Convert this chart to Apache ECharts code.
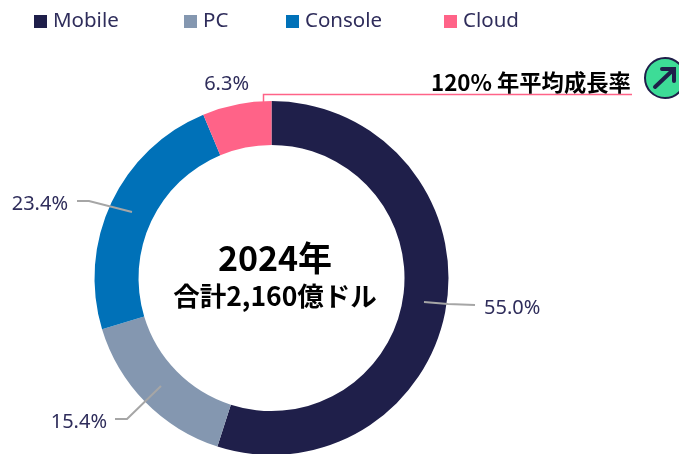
<!DOCTYPE html>
<html>
<head>
<meta charset="utf-8">
<style>
	html, body { margin: 0; padding: 0; background: #fff; }
	#main { width: 679px; height: 454px; }
</style>
<script src="https://cdn.jsdelivr.net/npm/echarts@6/dist/echarts.min.js"></script>
</head>
<body>
<div id="main"></div>
<script>
	const categories = ['Mobile', 'PC', 'Console', 'Cloud'];
	const shares = [55.0, 15.4, 23.4, 6.3];
	const colors = ['#1F1F4A', '#8497B0', '#0071B8', '#FF6388'];
	const centerTitle = '2024年';
	const centerSub = '合計2,160億ドル';
	const cagrText = '120% 年平均成長率';

	const textColor = '#2F2D5B';
	const latin = '"Noto Sans", sans-serif';
	const cjk = '"Noto Sans CJK JP", sans-serif';
	const legendLeft = [29, 179, 281, 439];

	// 标签位置和引线，和 categories 顺序一致
	const labelSpots = [
		{ x: 484, y: 308, align: 'left', line: [[424, 302], [448, 304], [475, 305]] },
		{ x: 107, y: 422, align: 'right', line: [[161, 386], [127, 419], [115, 419]] },
		{ x: 68, y: 204, align: 'right', line: [[132, 212], [89, 201], [77, 201]] },
		{ x: 249, y: 84, align: 'right', line: null }
	];

	let myChart = echarts.init(document.getElementById('main'));

	let option = {
		animation: false,
		backgroundColor: '#fff',
		// 图例间距不均匀，所以每项单独一个 legend
		legend: categories.map((name, i) => ({
			left: legendLeft[i],
			top: 6,
			icon: 'rect',
			itemWidth: 13,
			itemHeight: 13,
			itemGap: 0,
			selectedMode: false,
			textStyle: { color: textColor, fontSize: 20.5, fontFamily: latin, padding: [0, 0, 0, 1] },
			data: [name]
		})),
		series: [
			{
				type: 'pie',
				silent: true,
				center: [271.5, 278],
				radius: [133, 177],
				startAngle: 90,
				clockwise: true,
				label: { show: false },
				labelLine: { show: false },
				data: categories.map((name, i) => ({
					name: name,
					value: shares[i],
					itemStyle: { color: colors[i] }
				}))
			},
			{
				// 透明的一层，只用来画从环中间引出的标签线
				type: 'pie',
				silent: true,
				z: 5,
				center: [271.5, 278],
				radius: [100, 153],
				startAngle: 90,
				clockwise: true,
				label: {
					show: true,
					color: textColor,
					fontSize: 20,
					fontFamily: latin,
					formatter: p => p.value.toFixed(1) + '%'
				},
				labelLine: {
					show: true,
					length: 40,
					length2: 15,
					lineStyle: { color: '#A6A6A6', width: 2 }
				},
				labelLayout: params => {
					let spot = labelSpots[params.dataIndex];
					let layout = { x: spot.x, y: spot.y, align: spot.align, verticalAlign: 'middle' };
					if (spot.line) {
						layout.labelLinePoints = spot.line;
					}
					return layout;
				},
				data: categories.map((name, i) => ({
					name: name,
					value: shares[i],
					itemStyle: { color: 'transparent' },
					labelLine: { show: labelSpots[i].line !== null }
				}))
			}
		],
		graphic: [
			{ type: 'text', z: 10, style: { text: centerTitle, x: 275, y: 258, align: 'center', verticalAlign: 'middle', fill: '#000', font: 'bold 34px ' + cjk } },
			{ type: 'text', z: 10, style: { text: centerSub, x: 275, y: 296, align: 'center', verticalAlign: 'middle', fill: '#000', font: 'bold 26.5px ' + cjk } },
			{ type: 'polyline', z: 10, shape: { points: [[263.5, 102], [263.5, 94.5], [632, 94.5]] }, style: { stroke: '#FF6388', lineWidth: 1.5, fill: 'none' } },
			{ type: 'text', z: 10, style: { text: cagrText, x: 431, y: 83, align: 'left', verticalAlign: 'middle', fill: '#000', font: 'bold 22.3px ' + cjk } },
			{ type: 'circle', z: 10, shape: { cx: 665, cy: 78, r: 20 }, style: { fill: '#3DDC97', stroke: '#1F1F4A', lineWidth: 2 } },
			{ type: 'line', z: 11, shape: { x1: 655, y1: 87, x2: 673, y2: 70 }, style: { stroke: '#1F1F4A', lineWidth: 4, lineCap: 'round' } },
			{ type: 'polyline', z: 11, shape: { points: [[662, 69], [674, 69], [674, 81]] }, style: { stroke: '#1F1F4A', lineWidth: 4, fill: 'none', lineCap: 'round' } }
		]
	};

	myChart.setOption(option);
</script>
</body>
</html>
